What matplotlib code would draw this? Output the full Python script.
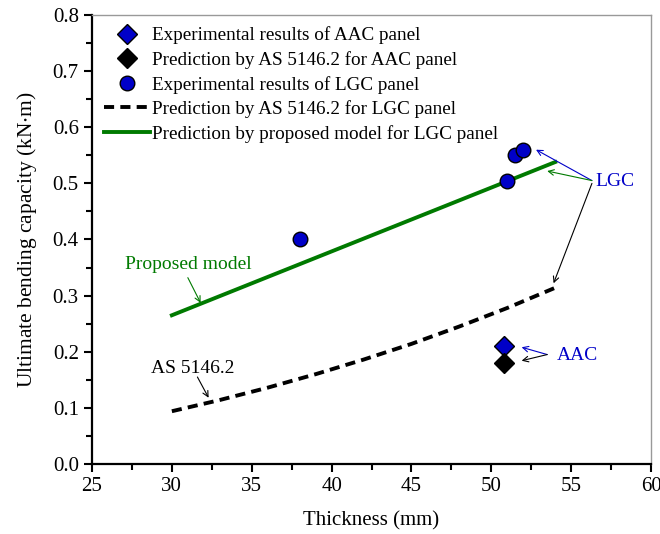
import matplotlib
matplotlib.use("Agg")
import matplotlib.pyplot as plt
from matplotlib.ticker import MultipleLocator

plt.rcParams['font.family'] = ['Liberation Serif', 'DejaVu Serif']
plt.rcParams['mathtext.fontset'] = 'stix'

# Data
aac_exp_x = [50.8]
aac_exp_y = [0.21]
aac_pred_x = [50.8]
aac_pred_y = [0.18]
lgc_exp_x = [38.0, 51.0, 51.5, 52.0]
lgc_exp_y = [0.40, 0.505, 0.55, 0.56]
as_lgc_x = [30, 33, 36, 39, 42, 45, 48, 51, 54]
as_lgc_y = [0.094, 0.114, 0.136, 0.160, 0.186, 0.214, 0.245, 0.278, 0.314]
prop_x = [30, 54]
prop_y = [0.265, 0.538]

blue = '#0000C8'
green = '#007A00'

fig = plt.figure(figsize=(6.6, 5.34), dpi=100)
ax = fig.add_axes([0.1394, 0.1311, 0.847, 0.8408])

ax.plot(aac_exp_x, aac_exp_y, 'D', color=blue, mec='black', mew=1.0, ms=10,
        label='Experimental results of AAC panel', zorder=5)
ax.plot(aac_pred_x, aac_pred_y, 'D', color='black', mec='black', mew=1.0, ms=10,
        label='Prediction by AS 5146.2 for AAC panel', zorder=5)
ax.plot(lgc_exp_x, lgc_exp_y, 'o', color=blue, mec='black', mew=1.0, ms=10.5,
        label='Experimental results of LGC panel', zorder=6)
ln, = ax.plot(as_lgc_x, as_lgc_y, '--', color='black', lw=2.8,
              label='Prediction by AS 5146.2 for LGC panel')
ln.set_dashes((2.6, 1.6))
ax.plot(prop_x, prop_y, '-', color=green, lw=2.8,
        label='Prediction by proposed model for LGC panel')

ax.set_xlim(25, 60)
ax.set_ylim(0, 0.8)
ax.xaxis.set_major_locator(MultipleLocator(5))
ax.xaxis.set_minor_locator(MultipleLocator(2.5))
ax.yaxis.set_major_locator(MultipleLocator(0.1))
ax.yaxis.set_minor_locator(MultipleLocator(0.05))
ax.yaxis.set_major_formatter(matplotlib.ticker.FormatStrFormatter('%.1f'))

for s in ['left', 'bottom']:
    ax.spines[s].set_linewidth(1.6)
    ax.spines[s].set_color('black')
for s in ['top', 'right']:
    ax.spines[s].set_linewidth(1.0)
    ax.spines[s].set_color('#999999')

ax.tick_params(which='major', direction='out', length=6, width=1.5, labelsize=15,
               top=False, right=False)
ax.tick_params(which='minor', direction='out', length=4, width=1.5,
               top=False, right=False)

ax.set_xlabel('Thickness (mm)', fontsize=15, labelpad=11)
ax.set_ylabel('Ultimate bending capacity (kN$\\cdot$m)', fontsize=15.5, labelpad=10)

leg = ax.legend(loc='upper left', bbox_to_anchor=(0.0, 1.0), frameon=False,
                fontsize=13.8, handlelength=2.4, handletextpad=0.15,
                labelspacing=0.35, borderaxespad=0.3, borderpad=0.3)

# Annotations
ax.text(31.0, 0.355, 'Proposed model', color=green, fontsize=14,
        ha='center', va='center')
ax.annotate('', xy=(31.8, 0.287), xytext=(31.0, 0.332),
            arrowprops=dict(arrowstyle='->', color=green, lw=0.8, shrinkA=0, shrinkB=0))
ax.text(31.3, 0.171, 'AS 5146.2', color='black', fontsize=14,
        ha='center', va='center')
ax.annotate('', xy=(32.3, 0.118), xytext=(31.6, 0.155),
            arrowprops=dict(arrowstyle='->', color='black', lw=0.8, shrinkA=0, shrinkB=0))

ax.text(56.5, 0.503, 'LGC', color=blue, fontsize=14, va='center', ha='left')
ax.annotate('', xy=(52.8, 0.560), xytext=(56.3, 0.505),
            arrowprops=dict(arrowstyle='->', color=blue, lw=0.8, shrinkA=0, shrinkB=0))
ax.annotate('', xy=(53.5, 0.522), xytext=(56.3, 0.505),
            arrowprops=dict(arrowstyle='->', color=green, lw=0.8, shrinkA=0, shrinkB=0))
ax.annotate('', xy=(53.9, 0.322), xytext=(56.3, 0.500),
            arrowprops=dict(arrowstyle='->', color='black', lw=0.8, shrinkA=0, shrinkB=0))

ax.text(54.1, 0.193, 'AAC', color=blue, fontsize=14, va='center', ha='left')
ax.annotate('', xy=(51.9, 0.208), xytext=(53.5, 0.195),
            arrowprops=dict(arrowstyle='->', color=blue, lw=0.8, shrinkA=0, shrinkB=0))
ax.annotate('', xy=(51.9, 0.184), xytext=(53.5, 0.195),
            arrowprops=dict(arrowstyle='->', color='black', lw=0.8, shrinkA=0, shrinkB=0))

fig.savefig('out.png', dpi=100)
